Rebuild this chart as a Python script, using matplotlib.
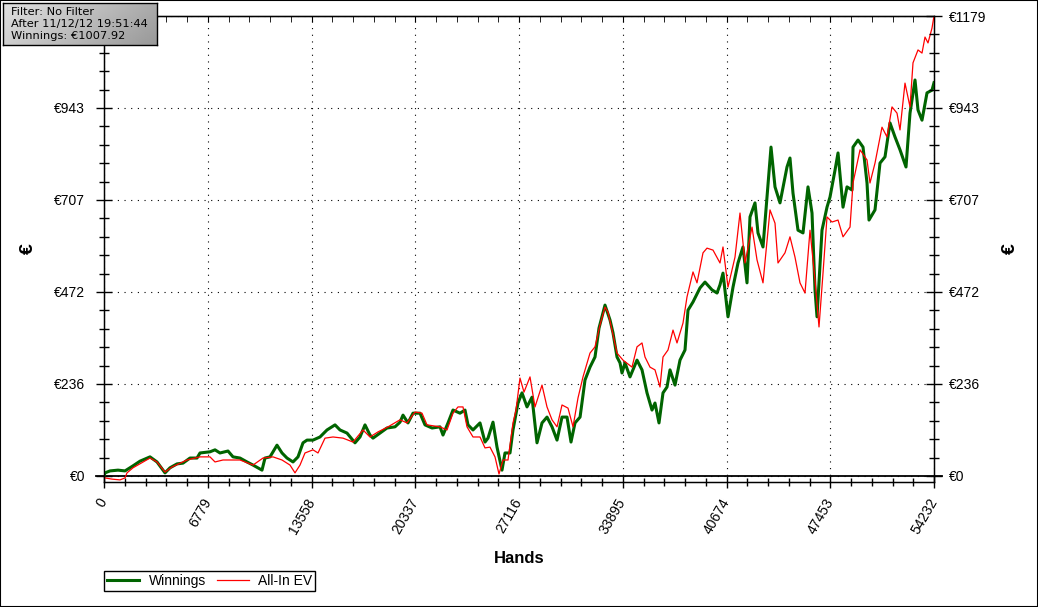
import numpy as np
import matplotlib
matplotlib.use('Agg')
import matplotlib.pyplot as plt
from matplotlib.patches import Rectangle
from matplotlib.lines import Line2D

# Winnings curve (hands, euros)
win_hands = [0, 65, 392, 915, 1372, 1895, 2352, 3006, 3463, 3986, 4312, 4770, 5162, 5619, 6077, 6273,
             6926, 7253, 7579, 8102, 8429, 8886, 9344, 9736, 10324, 10520, 10846, 11303, 11631, 11957,
             12349, 12676, 13003, 13264, 13656, 14113, 14571, 15094, 15420, 15878, 16400, 16727, 17054,
             17380, 17576, 18034, 18491, 19014, 19341, 19537, 19863, 20190, 20647, 20974, 21432, 21954,
             22150, 22477, 22804, 23261, 23588, 23784, 24110, 24568, 24895, 25091, 25417, 25679, 26005,
             26201, 26528, 26724, 27051, 27312, 27639, 27966, 28292, 28619, 28946, 29273, 29600, 29926,
             30253, 30514, 30775, 31106, 31429, 31755, 32082, 32343, 32735, 33062, 33258, 33520, 33715,
             33846, 34042, 34369, 34826, 35153, 35480, 35806, 36002, 36264, 36525, 36786, 36982, 37310,
             37636, 37963, 38159, 38485, 38943, 39269, 39727, 40054, 40249, 40445, 40772, 41099, 41425,
             41752, 42014, 42210, 42536, 42732, 43059, 43320, 43582, 43843, 44170, 44627, 44822, 45019,
             45346, 45673, 45999, 46261, 46457, 46588, 46914, 47241, 47437, 47765, 47961, 48287, 48548,
             48875, 48941, 49267, 49594, 49855, 49985, 50377, 50704, 51031, 51357, 51684, 52011, 52403,
             52664, 52991, 53187, 53448, 53775, 54101, 54232]
win_eur = [0, 8, 13, 15, 13, 26, 38, 49, 36, 8, 21, 31, 33, 46, 46, 59,
           62, 67, 59, 64, 49, 46, 36, 28, 15, 46, 49, 79, 59, 46,
           36, 49, 85, 92, 92, 100, 118, 131, 118, 110, 85, 100, 131,
           105, 97, 110, 123, 126, 138, 156, 136, 161, 161, 131, 123, 126,
           105, 136, 169, 161, 169, 131, 118, 136, 87, 97, 138, 74, 15,
           59, 59, 118, 187, 213, 177, 202, 85, 136, 151, 126, 92, 151,
           151, 87, 136, 151, 246, 279, 305, 379, 438, 400, 367, 305, 290,
           264, 290, 254, 297, 272, 213, 169, 187, 136, 213, 228, 272, 233,
           297, 323, 425, 446, 482, 497, 477, 469, 490, 520, 408, 484, 546,
           587, 495, 664, 700, 623, 587, 715, 843, 741, 700, 792, 815, 725,
           630, 623, 741, 674, 477, 408, 630, 689, 715, 784, 828, 689, 741,
           733, 843, 861, 843, 751, 656, 682, 802, 818, 905, 869, 836, 792,
           930, 1015, 938, 912, 982, 989, 1008]

# All-In EV curve
ev_hands = [0, 65, 523, 1045, 1372, 1503, 1895, 3006, 3463, 3986, 4443, 5423, 6273, 6926, 7253, 7775,
            8233, 8886, 9736, 10389, 11043, 11631, 12153, 12480, 12807, 13133, 13656, 13983, 14440,
            14963, 15616, 16270, 16923, 17380, 17903, 18557, 19341, 19798, 20321, 20778, 21105, 21954,
            22412, 22804, 23130, 23457, 23718, 24110, 24568, 24895, 25221, 25548, 25809, 26071, 26398,
            26724, 26920, 27181, 27443, 27835, 28162, 28619, 28946, 29273, 29600, 29926, 30318, 30645,
            30971, 31298, 31755, 32082, 32409, 32735, 32931, 33193, 33520, 33912, 34500, 34826, 35153,
            35349, 35676, 36002, 36329, 36525, 36852, 37179, 37440, 37832, 38093, 38485, 38747, 39139,
            39400, 39792, 40249, 40445, 40772, 41229, 41556, 41883, 42340, 42667, 43059, 43516, 43843,
            44039, 44496, 44822, 45149, 45476, 45803, 46130, 46457, 46718, 46980, 47241, 47568, 47961,
            48287, 48745, 48941, 49398, 49855, 50050, 50377, 50834, 51161, 51488, 51815, 52011, 52337,
            52664, 52860, 53187, 53448, 53644, 53840, 54101, 54232]
ev_eur = [0, -5, -8, -10, -5, 8, 21, 46, 36, 10, 23, 41, 49, 49, 36, 41,
          41, 41, 28, 46, 49, 41, 28, 8, 28, 59, 67, 59, 97,
          100, 97, 87, 118, 100, 113, 126, 144, 136, 164, 161, 131, 126,
          118, 161, 177, 177, 126, 100, 100, 72, 74, 49, 5, 41, 41,
          136, 169, 251, 215, 254, 177, 233, 177, 144, 126, 182, 174, 126,
          200, 254, 315, 331, 387, 433, 420, 374, 315, 297, 279, 331, 341,
          305, 279, 272, 228, 305, 323, 374, 341, 392, 459, 523, 495, 572,
          584, 579, 546, 587, 484, 561, 674, 546, 638, 554, 495, 682, 648,
          546, 572, 613, 561, 495, 469, 630, 502, 382, 520, 664, 651, 656,
          613, 638, 751, 836, 810, 751, 802, 894, 869, 946, 930, 887, 1007,
          946, 1059, 1092, 1084, 1125, 1110, 1148, 1179]

x_max = 54232
y_max = 1179
x_ticks = [0, 6779, 13558, 20337, 27116, 33895, 40674, 47453, 54232]
y_ticks = [0, 235.8, 471.6, 707.4, 943.2, 1179]
y_labels = ['€0', '€236', '€472', '€707', '€943', '€1179']

plt.rcParams['font.family'] = ['Liberation Sans', 'DejaVu Sans']

fig = plt.figure(figsize=(10.38, 6.07), dpi=100)
ax = fig.add_axes([104 / 1038, 1 - 482 / 607, 830 / 1038, 466 / 607])

ax.plot(win_hands, win_eur, color='#006400', lw=2.2, zorder=3)
ax.plot(ev_hands, ev_eur, color='#ff0000', lw=0.9, zorder=4)
ax.axhline(0, xmin=-0.01, xmax=1.01, color='black', lw=1.3, clip_on=False, zorder=2)

ax.set_xlim(0, x_max)
ax.set_ylim(-15.4, y_max)

ax.set_xticks(x_ticks)
ax.set_xticklabels([str(t) for t in x_ticks], rotation=60, ha='right', va='center',
                   rotation_mode='anchor', fontsize=10)
ax.set_xticks(np.arange(0, x_max + 1, 6779 / 5), minor=True)
ax.set_yticks(y_ticks)
ax.set_yticklabels(y_labels, fontsize=10)
ax.set_yticks(np.arange(0, y_max + 1, y_max / 25), minor=True)

ax.tick_params(axis='x', which='major', direction='inout', length=9, width=1, pad=8)
ax.tick_params(axis='x', which='minor', direction='inout', length=6, width=1)
ax.tick_params(axis='y', which='major', direction='inout', length=11, width=1, pad=8)
ax.tick_params(axis='y', which='minor', direction='inout', length=7, width=1)

ax.grid(which='major', color='black', linestyle=(0, (1, 5)), linewidth=0.8)
for s in ax.spines.values():
    s.set_linewidth(1)

ax2 = ax.twinx()
ax2.set_ylim(ax.get_ylim())
ax2.set_yticks(y_ticks)
ax2.set_yticklabels(y_labels, fontsize=10)
ax2.set_yticks(np.arange(0, y_max + 1, y_max / 25), minor=True)
ax2.tick_params(axis='y', which='major', direction='inout', length=11, width=1, pad=5)
ax2.tick_params(axis='y', which='minor', direction='inout', length=7, width=1)

top = ax.secondary_xaxis('top')
top.set_xticks(x_ticks)
top.set_xticks(np.arange(0, x_max + 1, 6779 / 5), minor=True)
top.tick_params(which='both', direction='in', length=4, labeltop=False)

ax.set_xlabel('Hands', fontsize=12, fontweight='bold', labelpad=10)
fig.text(28 / 1038, 1 - 249 / 607, '€', rotation=90, fontsize=14, fontweight='bold',
         ha='center', va='center')
fig.text(1010 / 1038, 1 - 249 / 607, '€', rotation=90, fontsize=14, fontweight='bold',
         ha='center', va='center')

handles = [Line2D([], [], color='#006400', lw=2.2), Line2D([], [], color='#ff0000', lw=0.9)]
leg = fig.legend(handles, ['Winnings', 'All-In EV'], loc='lower left',
                 bbox_to_anchor=(104 / 1038, 16 / 607), ncol=2, fontsize=10, frameon=True,
                 fancybox=False, edgecolor='black', framealpha=1, borderaxespad=0,
                 handlelength=2.3, handletextpad=0.7, columnspacing=0.8, borderpad=0.2)
leg.get_frame().set_linewidth(1)

# info box in the corner with a grey gradient
box = fig.add_axes([3 / 1038, 1 - 45 / 607, 154 / 1038, 42 / 607])
gx, gy = np.meshgrid(np.linspace(0, 1, 100), np.linspace(0, 1, 40))
grad = 0.88 - 0.28 * (0.75 * gx + 0.25 * gy)
box.imshow(grad, cmap='gray', vmin=0, vmax=1, aspect='auto', extent=(0, 1, 0, 1), origin='upper')
box.set_xlim(0, 1)
box.set_ylim(0, 1)
box.set_xticks([])
box.set_yticks([])
for s in box.spines.values():
    s.set_linewidth(1)
info = ['Filter: No Filter', 'After 11/12/12 19:51:44', 'Winnings: €1007.92']
box.text(0.05, 0.5, '\n'.join(info), fontsize=8.2, family='DejaVu Sans', va='center', ha='left',
         linespacing=1.28)

fig.patches.append(Rectangle((0, 0), 1, 1, transform=fig.transFigure, fill=False,
                             edgecolor='black', lw=1.5))

fig.savefig('out.png', dpi=100)
